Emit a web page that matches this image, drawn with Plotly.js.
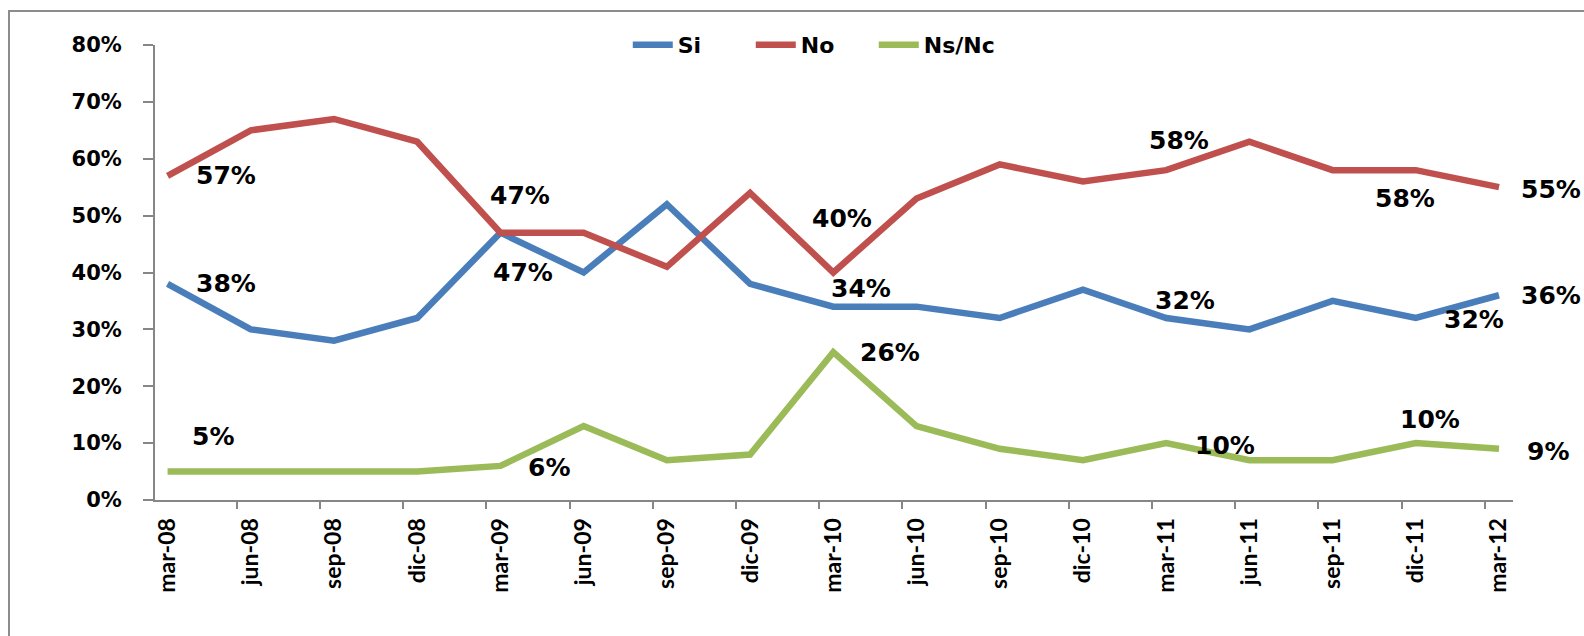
<!DOCTYPE html>
<html>
<head>
<meta charset="utf-8">
<script src="https://cdn.plot.ly/plotly-3.0.1.min.js"></script>
<style>
  body { margin: 0; background: #fff; }
  #wrap { position: relative; width: 1584px; height: 636px; overflow: hidden; }
  #frame { position: absolute; left: 8px; top: 10px; width: 1600px; height: 700px;
           border-left: 2px solid #8c8c8c; border-top: 2px solid #8c8c8c; pointer-events: none; }
</style>
</head>
<body>
<div id="wrap">
  <div id="plot" style="width:1584px;height:636px;"></div>
  <div id="frame"></div>
</div>
<script>
// datos de la encuesta (porcentajes)
const categories = ['mar-08', 'jun-08', 'sep-08', 'dic-08', 'mar-09', 'jun-09', 'sep-09', 'dic-09',
                    'mar-10', 'jun-10', 'sep-10', 'dic-10', 'mar-11', 'jun-11', 'sep-11', 'dic-11', 'mar-12'];
const si   = [38, 30, 28, 32, 47, 40, 52, 38, 34, 34, 32, 37, 32, 30, 35, 32, 36];
const no   = [57, 65, 67, 63, 47, 47, 41, 54, 40, 53, 59, 56, 58, 63, 58, 58, 55];
const nsnc = [5, 5, 5, 5, 6, 13, 7, 8, 26, 13, 9, 7, 10, 7, 7, 10, 9];
const yTicks = [0, 10, 20, 30, 40, 50, 60, 70, 80];

// etiquetas: [indice, desplazamiento x, desplazamiento y] en pixeles
const labelsSi = [[0, 58, 0], [4, 23, 40], [8, 28, -18], [12, 19, -18], [15, 58, 1], [16, 52, 0]];
const labelsNo = [[0, 58, 0], [4, 20, -37], [8, 9, -54], [12, 13, -30], [15, -11, 28], [16, 52, 2]];
const labelsNs = [[0, 45, -35], [4, 49, 2], [8, 57, 0], [12, 59, 2], [15, 14, -24], [16, 49, 3]];

const xIdx = categories.map((_, i) => i);
const labelFont = { family: 'DejaVu Sans', size: 25, color: '#000', weight: 'bold' };

const series = [
    { name: 'Si', y: si, color: '#4a7ebb', labels: labelsSi },
    { name: 'No', y: no, color: '#c0504d', labels: labelsNo },
    { name: 'Ns/Nc', y: nsnc, color: '#9bbb59', labels: labelsNs }
];

const traces = series.map(s => ({
    x: xIdx,
    y: s.y,
    name: s.name,
    mode: 'lines',
    line: { color: s.color, width: 6.5 },
    hoverinfo: 'skip'
}));

const annotations = [];
series.forEach(s => {
    s.labels.forEach(([i, dx, dy]) => {
        annotations.push({
            x: i, y: s.y[i], xref: 'x', yref: 'y',
            text: s.y[i] + '%',
            showarrow: false,
            xshift: dx, yshift: -dy,
            font: labelFont
        });
    });
});

const layout = {
    width: 1584,
    height: 636,
    margin: { l: 155, r: 71, t: 45, b: 136 },
    paper_bgcolor: '#fff',
    plot_bgcolor: '#fff',
    showlegend: true,
    legend: {
        orientation: 'h',
        x: 0.484, xanchor: 'center',
        y: 1, yanchor: 'middle',
        font: { family: 'DejaVu Sans', size: 22, color: '#000', weight: 'bold' },
        itemwidth: 40,
        entrywidth: 68,
        entrywidthmode: 'pixels'
    },
    xaxis: {
        range: [-0.151, 16.168],
        tickmode: 'array',
        tickvals: xIdx,
        ticktext: categories,
        tickangle: -90,
        ticks: '',
        ticklabelstandoff: 7,
        showgrid: false,
        zeroline: false,
        showline: true,
        linecolor: '#868686',
        linewidth: 2,
        tickfont: { family: 'Lato', size: 23, color: '#000', weight: 'bold' },
        minor: { tickmode: 'linear', tick0: -0.17, dtick: 1, ticks: 'outside', ticklen: 7,
                 tickcolor: '#868686', tickwidth: 2, showgrid: false }
    },
    yaxis: {
        range: [0, 80],
        tickmode: 'array',
        tickvals: yTicks,
        ticktext: yTicks.map(v => v + '%'),
        ticks: 'outside',
        ticklen: 10,
        tickcolor: '#868686',
        tickwidth: 2,
        ticklabelstandoff: 17,
        showgrid: false,
        zeroline: false,
        showline: true,
        linecolor: '#868686',
        linewidth: 2,
        tickfont: { family: 'DejaVu Sans', size: 21, color: '#000', weight: 'bold' }
    },
    annotations: annotations
};

Plotly.newPlot('plot', traces, layout, { displayModeBar: false, staticPlot: true });
</script>
</body>
</html>
